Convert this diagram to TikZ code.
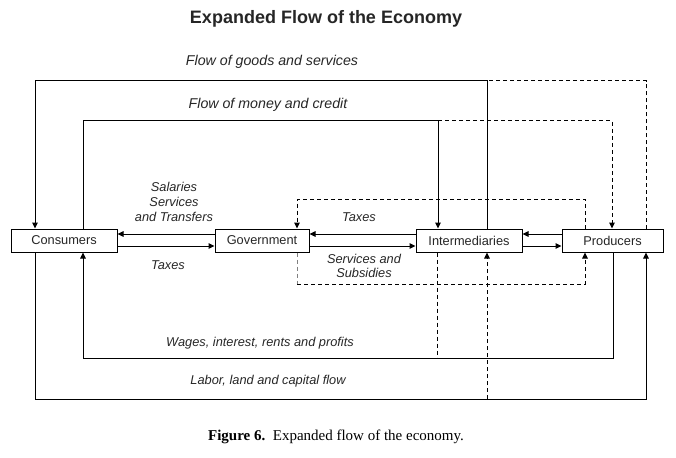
\documentclass[tikz,border=0pt]{standalone}
\usepackage{fontspec}
\setmainfont{Liberation Sans}
\newfontfamily\capfont{Liberation Serif}
\usetikzlibrary{arrows.meta}
\definecolor{txt}{HTML}{262626}
\tikzset{
  box/.style={draw, line width=1pt, inner sep=0pt, minimum height=23pt, font=\fontsize{12.8}{14}\selectfont, text=txt},
  flow/.style={line width=1pt},
  arr/.style={flow, -{Triangle[length=6pt,width=5.5pt]}},
  dsh/.style={flow, dash pattern=on 4pt off 3pt},
  lab/.style={inner sep=0pt, align=center, text=txt, font=\fontsize{12.8}{15}\selectfont\itshape},
  biglab/.style={inner sep=0pt, text=txt, font=\fontsize{14.2}{16}\selectfont\itshape},
}
\begin{document}
\begin{tikzpicture}[x=1pt,y=-1pt]
\useasboundingbox (0,0) rectangle (676,457);
% boxes
\node[box, minimum width=106pt] (cons)  at (64,240.5)  {Consumers};
\node[box, minimum width=94pt]  (gov)   at (262,240.5) {Government};
\node[box, minimum width=106pt] (inter) at (469,240.5) {Intermediaries};
\node[box, minimum width=101pt] (prod)  at (612.5,240.5) {Producers};
% title and caption
\node[inner sep=0pt, text=txt, font=\fontsize{18}{20}\selectfont\bfseries] (title) at (326,18.5) {Expanded Flow of the Economy};
\node[inner sep=0pt, font=\fontsize{15}{17}\selectfont\capfont] (cap) at (336,437) {\textbf{Figure 6.}\ \ Expanded flow of the economy.};
% corner coordinates
\coordinate (g1) at (35,81);  \coordinate (g2) at (487,81);  \coordinate (g3) at (646,81);
\coordinate (m1) at (83,121); \coordinate (m2) at (438,121); \coordinate (m3) at (612,121);
\coordinate (t1) at (297,199); \coordinate (t2) at (585,199);
\coordinate (s1) at (297,284); \coordinate (s2) at (585,284);
\coordinate (w1) at (83,358); \coordinate (w2) at (613,358); \coordinate (w3) at (437,358);
\coordinate (l1) at (35,399); \coordinate (l2) at (646,399); \coordinate (l3) at (487,399);
% goods and services
\draw[arr] (inter.north -| g2) -- (g2) -- (g1) -- (cons.north -| g1);
\draw[dsh] (prod.north -| g3) -- (g3) -- (g2);
% money and credit
\draw[arr] (cons.north -| m1) -- (m1) -- (m2) -- (inter.north -| m2);
\draw[dsh, -{Triangle[length=6pt,width=5.5pt]}] (m2) -- (m3) -- (prod.north -| m3);
% taxes (producers -> government)
\draw[dsh, -{Triangle[length=6pt,width=5.5pt]}] (prod.north -| t2) -- (t2) -- (t1) -- (gov.north -| t1);
% services and subsidies (government -> producers)
\draw[dsh, gray] (gov.south -| s1) -- (s1);
\draw[dsh, -{Triangle[length=6pt,width=5.5pt]}] (s1) -- (s2) -- (prod.south -| s2);
% wages
\draw[arr] (prod.south -| w2) -- (w2) -- (w1) -- (cons.south -| w1);
\draw[dsh] (inter.south -| w3) -- (w3);
% labor
\draw[arr] (cons.south -| l1) -- (l1) -- (l2) -- (prod.south -| l2);
\draw[dsh, -{Triangle[length=6pt,width=5.5pt]}] (l3) -- (inter.south -| l3);
% horizontal arrows
\draw[arr] ([yshift=6.5pt]gov.west) -- ([yshift=6.5pt]cons.east);
\draw[arr] ([yshift=-5.5pt]cons.east) -- ([yshift=-5.5pt]gov.west);
\draw[arr] ([yshift=6.5pt]inter.west) -- ([yshift=6.5pt]gov.east);
\draw[arr] ([yshift=-5.5pt]gov.east) -- ([yshift=-5.5pt]inter.west);
\draw[arr] ([yshift=6.5pt]prod.west) -- ([yshift=6.5pt]inter.east);
\draw[arr] ([yshift=-5.5pt]inter.east) -- ([yshift=-5.5pt]prod.west);
% labels
\node[biglab] (lgoods) at (272,62) {Flow of goods and services};
\node[biglab] (lmoney) at (268,105) {Flow of money and credit};
\node[lab] (lsal) at (174,202) {Salaries\\Services\\and Transfers};
\node[lab] (ltax1) at (168,265) {Taxes};
\node[lab] (ltax2) at (359,217) {Taxes};
\node[lab, font=\fontsize{12.8}{14}\selectfont\itshape] (lserv) at (364,266) {Services and\\Subsidies};
\node[lab] (lwages) at (260,343) {Wages, interest, rents and profits};
\node[lab] (llabor) at (268,381) {Labor, land and capital flow};
\end{tikzpicture}
\end{document}
